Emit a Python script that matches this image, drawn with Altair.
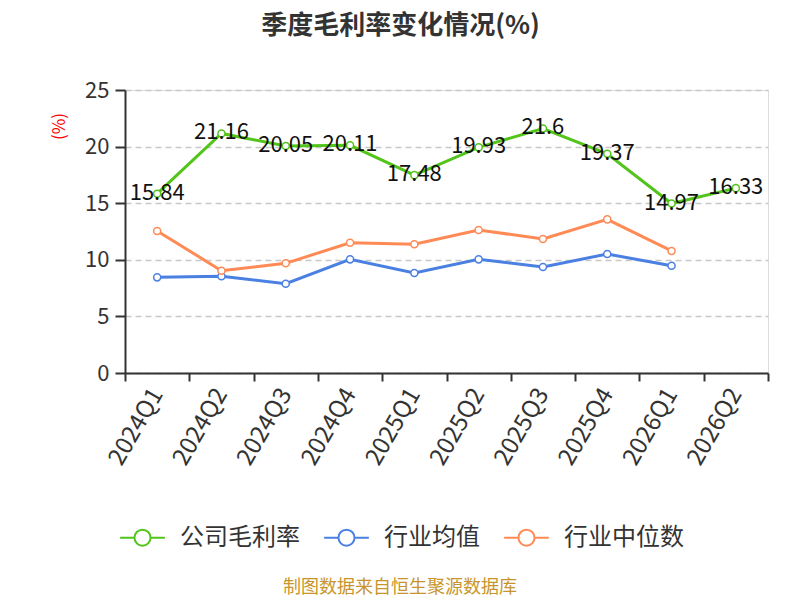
import pandas as pd
import altair as alt

quarters = ["2024Q1", "2024Q2", "2024Q3", "2024Q4", "2025Q1",
            "2025Q2", "2025Q3", "2025Q4", "2026Q1", "2026Q2"]
gongsi = [15.84, 21.16, 20.05, 20.11, 17.48, 19.93, 21.6, 19.37, 14.97, 16.33]
junzhi = [8.45, 8.54, 7.89, 10.04, 8.83, 10.04, 9.36, 10.51, 9.48, None]
zhongwei = [12.55, 9.04, 9.69, 11.51, 11.37, 12.63, 11.84, 13.57, 10.78, None]

series = ["公司毛利率", "行业均值", "行业中位数"]
colors = ["#52C41A", "#4A80E2", "#FF8A55"]

rows = []
for name, vals in zip(series, [gongsi, junzhi, zhongwei]):
    for q, v in zip(quarters, vals):
        if v is not None:
            rows.append({"季度": q, "系列": name, "值": v})
df = pd.DataFrame(rows)

font = "Noto Sans CJK SC"

# 图例符号: 线 + 空心圆
sym = ("M-1,0L-0.36,0M0.36,0L1,0M0.36,0"
       "A0.36,0.36,0,1,1,-0.36,0A0.36,0.36,0,1,1,0.36,0Z")

x = alt.X("季度:N", sort=quarters,
          scale=alt.Scale(type="band", paddingInner=0, paddingOuter=0),
          axis=alt.Axis(title=None, tickBand="extent", labelAngle=300,
                        labelAlign="right", labelBaseline="middle",
                        labelFontSize=24, labelColor="#333", labelPadding=9,
                        tickSize=8, tickColor="#333", tickWidth=2,
                        domainColor="#333", domainWidth=2))
y = alt.Y("值:Q", scale=alt.Scale(domain=[0, 25], nice=False),
          axis=alt.Axis(title="(%)", titleColor="red", titleFontSize=17,
                        titleFontWeight="normal", titleX=-57, titleY=36,
                        values=[0, 5, 10, 15, 20, 25], labelFontSize=22,
                        labelColor="#333", labelPadding=6, tickSize=10,
                        tickColor="#333", tickWidth=2, domainColor="#333",
                        domainWidth=2, gridColor="#c8c8c8", gridDash=[6, 4],
                        gridWidth=1.5))
color = alt.Color("系列:N", sort=series,
                  scale=alt.Scale(domain=series, range=colors),
                  legend=alt.Legend(title=None, orient="none", direction="horizontal",
                                    legendX=-6, legendY=424, symbolType=sym,
                                    symbolSize=2000, symbolStrokeWidth=2,
                                    symbolFillColor="white", labelFontSize=24,
                                    labelColor="#333", labelOffset=14,
                                    columnPadding=20, labelFont=font))

base = alt.Chart(df)
lines = base.mark_line(strokeWidth=3).encode(x=x, y=y, color=color)
points = base.mark_point(filled=True, fill="white", size=50, strokeWidth=1.5,
                         opacity=1).encode(
    x=x, y=y, stroke=alt.Stroke("系列:N", scale=alt.Scale(domain=series, range=colors),
                                legend=None))
labels = base.transform_filter(alt.datum["系列"] == "公司毛利率").mark_text(
    fontSize=22, color="#111", baseline="middle", dy=-1, font=font
).encode(x=x, y=y, text=alt.Text("值:Q"))
source = alt.Chart(pd.DataFrame({"t": ["制图数据来自恒生聚源数据库"]})).mark_text(
    fontSize=18, color="#C8952C", font=font
).encode(x=alt.value(275), y=alt.value(498), text="t:N")

chart = alt.layer(lines, points, labels, source).properties(
    width=643, height=283,
    autosize=alt.AutoSizeParams(type="none"),
    padding={"left": 117, "top": 82, "right": 24, "bottom": 226},
    title=alt.Title("季度毛利率变化情况(%)", fontSize=26, fontWeight="bold",
                    color="#333", anchor="middle", dx=-46, offset=40, font=font),
).configure_view(stroke=None).configure(font=font)

chart.save("out.html", embed_options={"renderer": "svg", "actions": False})
